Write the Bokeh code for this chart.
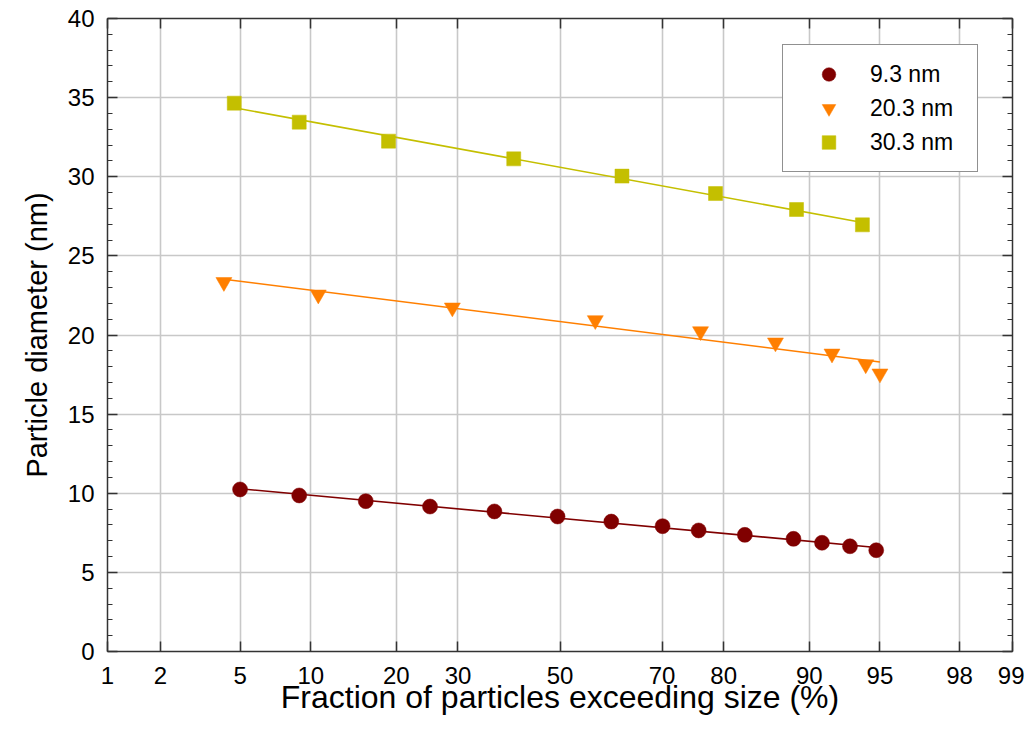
from statistics import NormalDist
import numpy as np
from bokeh.plotting import figure
from bokeh.models import (Range1d, FixedTicker, SingleIntervalTicker, LinearAxis,
                          Legend, LegendItem)
from bokeh.embed import file_html
from bokeh.resources import INLINE

# ---- data (x: % of particles exceeding size, y: particle diameter nm) ----
pct_93 = [5.0, 9.0, 15.9, 25.2, 36.8, 49.5, 60.4, 70.1, 76.2, 82.9, 88.5, 91.1, 93.2, 94.8]
dia_93 = [10.24, 9.86, 9.50, 9.16, 8.85, 8.53, 8.21, 7.92, 7.65, 7.37, 7.12, 6.87, 6.65, 6.40]

pct_203 = [4.2, 10.7, 29.0, 57.2, 76.5, 86.6, 91.9, 94.2, 95.0]
dia_203 = [23.34, 22.55, 21.73, 20.93, 20.23, 19.52, 18.82, 18.14, 17.56]

pct_303 = [4.7, 9.0, 18.9, 40.6, 62.5, 78.8, 88.8, 94.0]
dia_303 = [34.65, 33.45, 32.25, 31.13, 30.04, 28.94, 27.93, 26.96]

x_tick_pct = [1, 2, 5, 10, 20, 30, 50, 70, 80, 90, 95, 98, 99]
series_names = ["9.3 nm", "20.3 nm", "30.3 nm"]
colors = ["#800000", "#ff7f00", "#c4bf00"]
markers = ["circle", "inverted_triangle", "square"]
sizes = [15, 16, 14]

ND = NormalDist()
def z(pcts):
    return [round(ND.inv_cdf(p / 100.0), 6) for p in pcts]

FONT = "Liberation Sans"
zt = z(x_tick_pct)

p = figure(width=1024, height=740, output_backend="svg", toolbar_location=None,
           x_range=Range1d(zt[0], zt[-1]), y_range=Range1d(0, 40),
           min_border_left=107, min_border_top=18, min_border_right=12,
           min_border_bottom=89, x_axis_location=None, y_axis_location=None)
p.outline_line_color = None
p.background_fill_color = "white"

xt = FixedTicker(ticks=zt, minor_ticks=[])
yt = SingleIntervalTicker(interval=5, num_minor_ticks=5)

def style(ax, labels=True):
    ax.axis_line_color = "#333333"
    ax.axis_line_width = 1.5
    ax.major_tick_line_color = "#333333"
    ax.major_tick_line_width = 1.5
    ax.minor_tick_line_color = "#333333"
    ax.minor_tick_line_width = 1.2
    ax.major_tick_in = 10
    ax.major_tick_out = 0
    ax.minor_tick_in = 5
    ax.minor_tick_out = 0
    ax.major_label_text_font = FONT
    ax.major_label_text_font_size = "24px"
    ax.major_label_text_color = "black"
    ax.axis_label_text_font = FONT
    ax.axis_label_text_font_size = "29px"
    ax.axis_label_text_font_style = "normal"
    ax.axis_label_text_color = "black"
    if not labels:
        ax.major_label_text_font_size = "0px"
        ax.major_label_text_alpha = 0

xb = LinearAxis(ticker=xt, axis_label="Fraction of particles exceeding size (%)")
xb.major_label_overrides = {v: str(l) for v, l in zip(zt, x_tick_pct)}
style(xb)
xb.axis_label_text_font_size = "32px"
xb.major_label_standoff = 15
xb.axis_label_standoff = -8
p.add_layout(xb, "below")

xa = LinearAxis(ticker=xt)
style(xa, labels=False)
p.add_layout(xa, "above")

yl = LinearAxis(ticker=yt, axis_label="Particle diameter (nm)")
style(yl)
yl.major_label_standoff = 13
yl.axis_label_standoff = 12
p.add_layout(yl, "left")

yr = LinearAxis(ticker=yt)
style(yr, labels=False)
p.add_layout(yr, "right")

p.xgrid.ticker = xt
p.ygrid.ticker = yt
for g in (p.xgrid, p.ygrid):
    g.grid_line_color = "#c8c8c8"
    g.grid_line_width = 1.6

items = []
for pcts, dias, name, c, m, s in zip([pct_93, pct_203, pct_303],
                                      [dia_93, dia_203, dia_303],
                                      series_names, colors, markers, sizes):
    zx = np.array(z(pcts))
    dy = np.array(dias)
    k, b = np.polyfit(zx, dy, 1)
    lx = [zx.min(), zx.max()]
    p.line(lx, [k * lx[0] + b, k * lx[1] + b], line_color=c, line_width=1.6)
    r = p.scatter(zx, dy, marker=m, size=s, fill_color=c, line_color=c, line_width=0.5)
    items.append(LegendItem(label=name, renderers=[r]))

leg = Legend(items=items, location=(675, 479))
leg.label_text_font = FONT
leg.label_text_font_size = "23px"
leg.label_text_color = "black"
leg.label_height = 34
leg.glyph_height = 34
leg.glyph_width = 67
leg.label_width = 95
leg.label_standoff = 8
leg.spacing = 0
leg.padding = 12
leg.margin = 0
leg.border_line_color = "#222222"
leg.border_line_width = 1.5
leg.background_fill_color = "white"
leg.background_fill_alpha = 1
p.add_layout(leg, "center")

open("out.html", "w").write(file_html(p, INLINE))
